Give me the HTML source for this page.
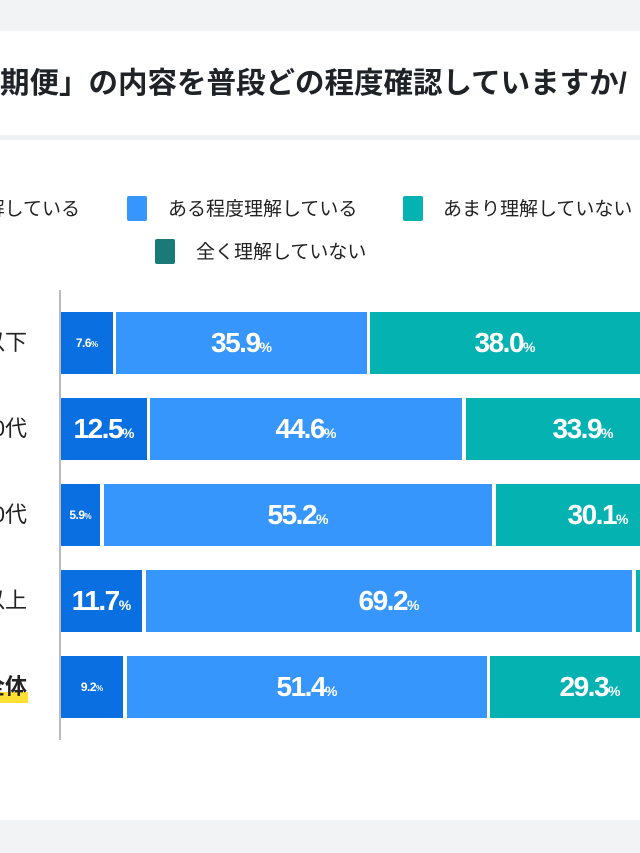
<!DOCTYPE html>
<html><head><meta charset="utf-8"><style>
html,body{margin:0;padding:0}
body{width:640px;height:853px;overflow:hidden;background:#fff;font-family:"Liberation Sans","Noto Sans CJK JP",sans-serif}
#w{position:relative;width:640px;height:853px;overflow:hidden}
.a{position:absolute}
.seg{position:absolute;height:62px;display:flex;align-items:center;justify-content:center;color:#fff;font-weight:bold;font-size:28px;letter-spacing:-1.5px;white-space:nowrap;overflow:hidden}
.seg small{font-size:14px;letter-spacing:0;margin-top:8px}
.seg.s{font-size:12px;letter-spacing:-0.5px}
.seg.s small{font-size:8px;margin-top:3px}
.d{background:#0a6fe0}.l{background:#3796fc}.t{background:#05b2b2}
.lab{position:absolute;right:613px;font-size:22px;color:#222;white-space:nowrap;line-height:30px}
.sq{position:absolute;width:20px;height:25px;border-radius:2px}
.lg{position:absolute;font-size:19px;color:#222;white-space:nowrap;line-height:26px}
</style></head><body><div id="w">
<div class="a" style="left:0;top:0;width:640px;height:31px;background:#f2f3f5"></div>
<div class="a" style="left:0;top:135px;width:640px;height:5px;background:#f0f1f3"></div>
<div class="a" style="left:0;top:820px;width:640px;height:33px;background:#f2f3f5"></div>
<div class="a" style="left:0;top:64px;font-size:29.5px;font-weight:bold;color:#1f2328;white-space:nowrap;line-height:40px">期便」の内容を普段どの程度確認していますか/</div>

<div class="lg" style="right:560px;top:197px">よく理解している</div>
<div class="sq" style="left:127px;top:196px;background:#3796fc"></div>
<div class="lg" style="left:168px;top:197px">ある程度理解している</div>
<div class="sq" style="left:403px;top:196px;background:#05b2b2"></div>
<div class="lg" style="left:443px;top:197px">あまり理解していない</div>
<div class="sq" style="left:155px;top:239px;background:#1a7a78"></div>
<div class="lg" style="left:196px;top:240px">全く理解していない</div>

<div class="a" style="left:59px;top:290px;width:2px;height:450px;background:#bbb"></div>

<div class="lab" style="top:328px">20代以下</div>
<div class="lab" style="top:414px">30代</div>
<div class="lab" style="top:500px">40代</div>
<div class="lab" style="top:586px">60代以上</div>
<div class="a" style="left:0;top:692px;width:28px;height:11px;background:#ffe033"></div>
<div class="lab" style="top:672px;font-weight:bold">全体</div>

<div class="seg d s" style="left:61px;top:312px;width:52px">7.6<small>%</small></div>
<div class="seg l" style="left:116px;top:312px;width:251px">35.9<small>%</small></div>
<div class="seg t" style="left:370px;top:312px;width:270px">38.0<small>%</small></div>

<div class="seg d" style="left:61px;top:398px;width:86px">12.5<small>%</small></div>
<div class="seg l" style="left:150px;top:398px;width:312px">44.6<small>%</small></div>
<div class="seg t" style="left:466px;top:398px;width:174px"><span style="margin-left:60px">33.9<small>%</small></span></div>

<div class="seg d s" style="left:61px;top:484px;width:39px">5.9<small>%</small></div>
<div class="seg l" style="left:104px;top:484px;width:388px">55.2<small>%</small></div>
<div class="seg t" style="left:496px;top:484px;width:144px"><span style="margin-left:60px">30.1<small>%</small></span></div>

<div class="seg d" style="left:61px;top:570px;width:81px">11.7<small>%</small></div>
<div class="seg l" style="left:146px;top:570px;width:486px">69.2<small>%</small></div>
<div class="seg t" style="left:636px;top:570px;width:4px"></div>

<div class="seg d s" style="left:61px;top:656px;width:62px">9.2<small>%</small></div>
<div class="seg l" style="left:127px;top:656px;width:360px">51.4<small>%</small></div>
<div class="seg t" style="left:490px;top:656px;width:150px"><span style="margin-left:50px">29.3<small>%</small></span></div>
</div></body></html>
